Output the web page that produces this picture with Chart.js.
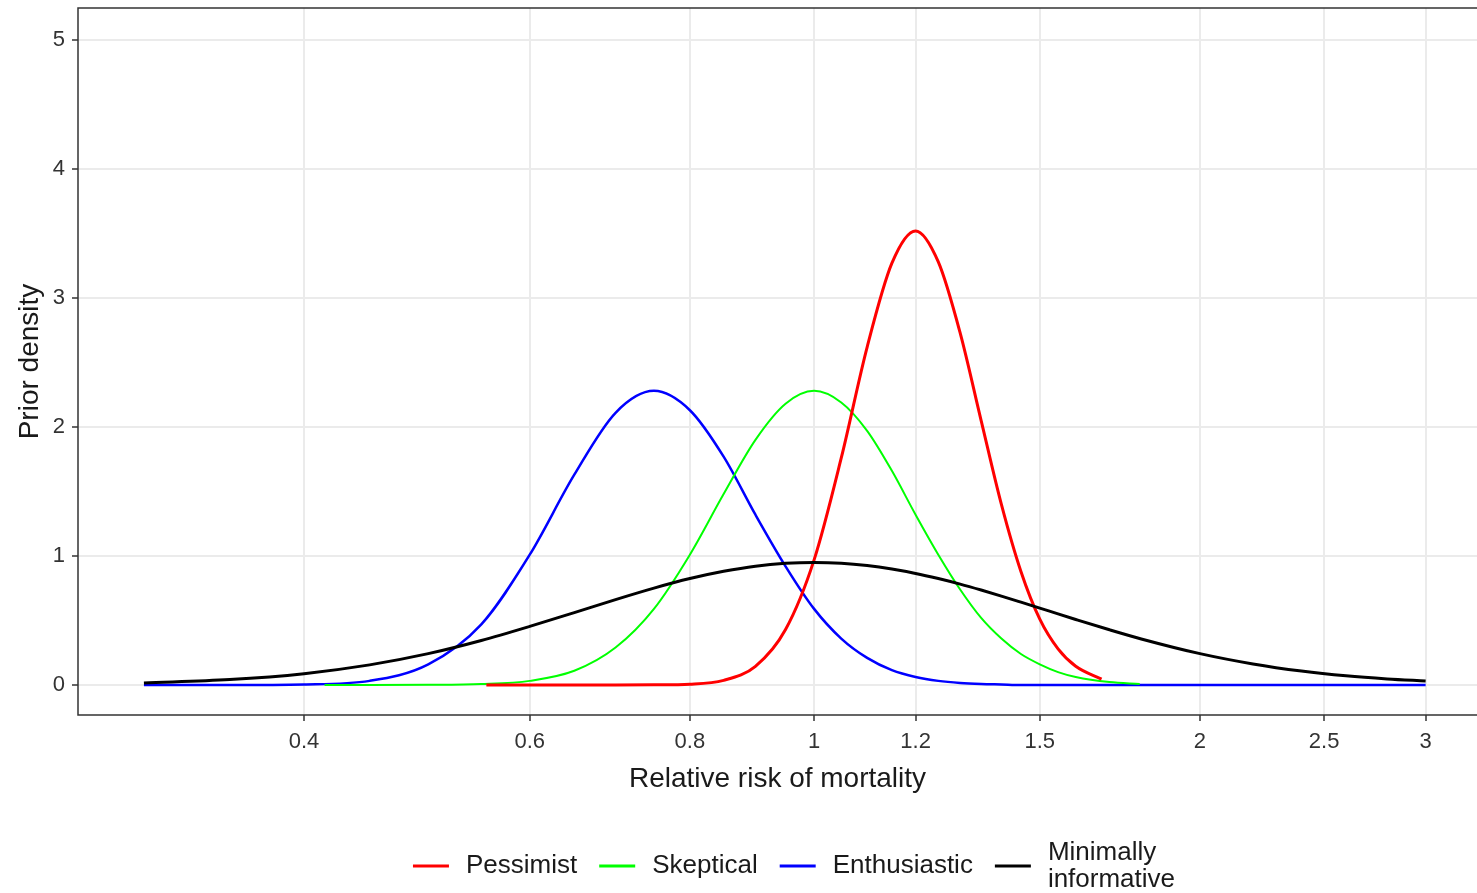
<!DOCTYPE html>
<html>
<head>
<meta charset="utf-8">
<title>Prior density</title>
<script src="https://cdn.jsdelivr.net/npm/chart.js@4.4.1/dist/chart.umd.min.js"></script>
<style>
  body { margin: 0; background: #fff; }
</style>
</head>
<body>
<canvas id="priorChart" width="1477" height="893"></canvas>
<script>
// axis breaks
const xTicks = [0.4, 0.6, 0.8, 1, 1.2, 1.5, 2, 2.5, 3];
const yTicks = [0, 1, 2, 3, 4, 5];

// relative risk grid used by the wide curves
const rrFull = [0.3, 0.35, 0.4, 0.45, 0.5, 0.55, 0.6, 0.65, 0.7, 0.75, 0.8, 0.85, 0.9, 0.95, 1.0,
  1.05, 1.1, 1.15, 1.2, 1.25, 1.3, 1.35, 1.4, 1.45, 1.5, 1.55, 1.6, 1.7, 1.8, 2.0, 2.2, 2.4, 2.6, 2.8, 3.0];
const minimalDensity = [0.016, 0.042, 0.088, 0.156, 0.243, 0.345, 0.454, 0.561, 0.662, 0.751, 0.825, 0.881,
  0.921, 0.943, 0.95, 0.944, 0.926, 0.899, 0.865, 0.825, 0.782, 0.736, 0.689, 0.642, 0.596, 0.551, 0.508,
  0.428, 0.357, 0.243, 0.163, 0.108, 0.071, 0.047, 0.031];
const enthusiasticDensity = [0, 0, 0.004, 0.032, 0.16, 0.47, 1.01, 1.63, 2.11, 2.28, 2.13, 1.77, 1.32, 0.92,
  0.59, 0.36, 0.21, 0.115, 0.062, 0.032, 0.016, 0.008, 0.004, 0, 0, 0, 0, 0, 0, 0, 0, 0, 0, 0, 0];

const rrSkeptical = [0.415, 0.45, 0.5, 0.55, 0.6, 0.65, 0.7, 0.75, 0.8, 0.85, 0.9, 0.95, 1.0, 1.05, 1.1,
  1.15, 1.2, 1.25, 1.3, 1.35, 1.4, 1.45, 1.5, 1.55, 1.6, 1.7, 1.795];
const skepticalDensity = [0, 0, 0.001, 0.007, 0.032, 0.11, 0.29, 0.59, 1.01, 1.48, 1.9, 2.18, 2.28, 2.19,
  1.97, 1.66, 1.32, 1.01, 0.74, 0.52, 0.36, 0.24, 0.16, 0.1, 0.062, 0.023, 0.008];

const rrPessimist = [0.555, 0.6, 0.65, 0.7, 0.75, 0.8, 0.85, 0.9, 0.95, 1.0, 1.05, 1.1, 1.15, 1.2, 1.25,
  1.3, 1.35, 1.4, 1.45, 1.5, 1.55, 1.6, 1.676];
const pessimistDensity = [0, 0, 0, 0, 0.001, 0.006, 0.036, 0.145, 0.43, 0.97, 1.76, 2.62, 3.27, 3.52, 3.28,
  2.73, 2.05, 1.4, 0.88, 0.51, 0.28, 0.145, 0.045];

const FONT = '"Liberation Sans", Arial, sans-serif';
Chart.defaults.font.family = FONT;

function pairs(xs, ys) {
  return xs.map((x, i) => ({ x: x, y: ys[i] }));
}

// panel frame (the right side runs off the picture), drawn over the curves
const panelBorder = {
  id: 'panelBorder',
  afterDatasetsDraw(chart) {
    const { ctx, chartArea: a } = chart;
    ctx.save();
    ctx.strokeStyle = '#333333';
    ctx.lineWidth = 1.5;
    ctx.beginPath();
    ctx.moveTo(a.right, a.top);
    ctx.lineTo(a.left, a.top);
    ctx.lineTo(a.left, a.bottom);
    ctx.lineTo(a.right, a.bottom);
    ctx.stroke();
    ctx.restore();
  }
};

// legend under the axis title, ggplot style (line keys, two-line last label)
const bottomLegend = {
  id: 'bottomLegend',
  afterDraw(chart) {
    const ctx = chart.ctx;
    const keyW = 36, keyGap = 17, itemGap = 22, lineH = 27, midY = 866, centreX = 794;
    ctx.save();
    ctx.font = '26px ' + FONT;
    ctx.textBaseline = 'middle';
    const items = chart.data.datasets.map(ds => {
      const lines = [].concat(ds.legendText || ds.label);
      const w = Math.max(...lines.map(l => ctx.measureText(l).width));
      return { lines: lines, w: w, color: ds.borderColor };
    });
    let total = items.reduce((s, it) => s + keyW + keyGap + it.w, 0) + itemGap * (items.length - 1);
    let x = centreX - total / 2;
    items.forEach(it => {
      ctx.strokeStyle = it.color;
      ctx.lineWidth = 3;
      ctx.beginPath();
      ctx.moveTo(x, midY);
      ctx.lineTo(x + keyW, midY);
      ctx.stroke();
      ctx.fillStyle = '#1a1a1a';
      const y0 = midY - (it.lines.length - 1) * lineH / 2;
      it.lines.forEach((l, i) => ctx.fillText(l, x + keyW + keyGap, y0 + i * lineH));
      x += keyW + keyGap + it.w + itemGap;
    });
    ctx.restore();
  }
};

const ctx = document.getElementById('priorChart').getContext('2d');
const priorChart = new Chart(ctx, {
  type: 'line',
  data: {
    datasets: [
      {
        label: 'Pessimist',
        data: pairs(rrPessimist, pessimistDensity),
        borderColor: '#ff0000',
        borderWidth: 3,
        order: 1
      },
      {
        label: 'Skeptical',
        data: pairs(rrSkeptical, skepticalDensity),
        borderColor: '#00ff00',
        borderWidth: 2,
        order: 2
      },
      {
        label: 'Enthusiastic',
        data: pairs(rrFull, enthusiasticDensity),
        borderColor: '#0000ff',
        borderWidth: 2.5,
        order: 3
      },
      {
        label: 'Minimally informative',
        legendText: ['Minimally', 'informative'],
        data: pairs(rrFull, minimalDensity),
        borderColor: '#000000',
        borderWidth: 3,
        order: 0
      }
    ]
  },
  options: {
    responsive: false,
    animation: false,
    devicePixelRatio: 1,
    elements: {
      point: { radius: 0 },
      line: { cubicInterpolationMode: 'monotone', fill: false }
    },
    layout: { padding: { top: 8, bottom: 94, left: 0, right: 0 } },
    plugins: {
      legend: { display: false },
      tooltip: { enabled: false }
    },
    scales: {
      x: {
        type: 'logarithmic',
        min: 0.2665,
        max: 3.29,
        afterBuildTicks: axis => { axis.ticks = xTicks.map(v => ({ value: v })); },
        afterFit: axis => {
          axis.height = 84;
          axis.paddingLeft = 0;
          axis.paddingRight = 0;
        },
        ticks: {
          autoSkip: false,
          maxRotation: 0,
          padding: 8,
          color: '#333333',
          font: { size: 22 },
          callback: v => String(v)
        },
        grid: {
          color: '#ebebeb',
          lineWidth: 2,
          tickColor: '#333333',
          tickLength: 6,
          tickWidth: 1.5
        },
        border: { display: false },
        title: {
          display: true,
          text: 'Relative risk of mortality',
          color: '#1a1a1a',
          font: { size: 28, lineHeight: 1 },
          padding: { top: 0, bottom: 6 }
        }
      },
      y: {
        type: 'linear',
        min: -0.2326,
        max: 5.248,
        afterBuildTicks: axis => { axis.ticks = yTicks.map(v => ({ value: v })); },
        afterFit: axis => {
          axis.width = 78;
          axis.paddingTop = 0;
          axis.paddingBottom = 0;
        },
        ticks: {
          padding: 7,
          color: '#333333',
          font: { size: 22 }
        },
        grid: {
          color: '#ebebeb',
          lineWidth: 2,
          tickColor: '#333333',
          tickLength: 6,
          tickWidth: 1.5
        },
        border: { display: false },
        title: {
          display: true,
          text: 'Prior density',
          color: '#1a1a1a',
          font: { size: 28, lineHeight: 1 },
          padding: { top: 16, bottom: 0 }
        }
      }
    }
  },
  plugins: [panelBorder, bottomLegend]
});
</script>
</body>
</html>
